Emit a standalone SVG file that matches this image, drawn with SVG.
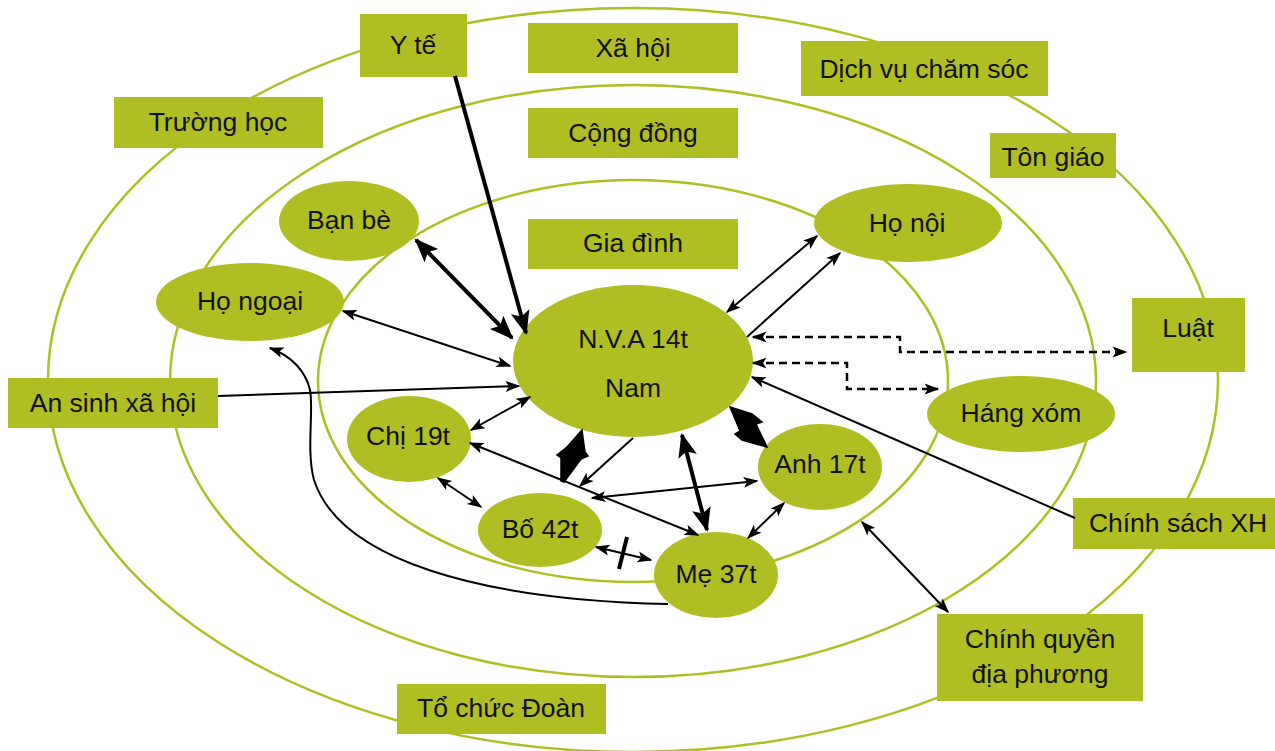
<svg xmlns="http://www.w3.org/2000/svg" width="1275" height="751" viewBox="0 0 1275 751">
<style>
.ring{fill:none;stroke:#AFBE22;stroke-width:2.5}
.box{fill:#AFBE22}
.node{fill:#AFBE22}
.t{font-family:"Liberation Sans",Arial,sans-serif;font-size:26.5px;fill:#111;text-anchor:middle}
.c{fill:none;stroke:#000;stroke-width:2}
.thick{stroke-width:4}
.dash{stroke-dasharray:8 5;stroke-width:2.5}
.dia{fill:#000;stroke:#000;stroke-width:1.5;stroke-linejoin:miter}
</style>
<defs>
<marker id="a" markerUnits="userSpaceOnUse" markerWidth="15" markerHeight="12" refX="13.5" refY="5.5" orient="auto-start-reverse" overflow="visible">
<path d="M0,0 L15,5.5 L0,11 L3.5,5.5 z" fill="#000"/>
</marker>
<marker id="ab" markerUnits="userSpaceOnUse" markerWidth="24" markerHeight="19" refX="22" refY="9.5" orient="auto-start-reverse" overflow="visible">
<path d="M0,0 L24,9.5 L0,19 L5,9.5 z" fill="#000"/>
</marker>
</defs>
<rect width="1275" height="751" fill="#fff"/>
<g id="rings">
<ellipse class="ring" cx="633" cy="380" rx="585" ry="372"/>
<ellipse class="ring" cx="633" cy="381" rx="463" ry="296"/>
<ellipse class="ring" cx="633" cy="381" rx="315" ry="201"/>
</g>
<g id="yte"><rect class="box" x="360" y="14" width="107" height="63"/><text class="t" x="413" y="54">Y tế</text></g>
<g id="xahoi"><rect class="box" x="528" y="23" width="210" height="50"/><text class="t" x="633" y="57">Xã hội</text></g>
<g id="dichvu"><rect class="box" x="801" y="41" width="247" height="55"/><text class="t" x="924" y="78">Dịch vụ chăm sóc</text></g>
<g id="truonghoc"><rect class="box" x="114" y="97" width="209" height="51"/><text class="t" x="218" y="131">Trường học</text></g>
<g id="congdong"><rect class="box" x="528" y="108" width="210" height="50"/><text class="t" x="633" y="142">Cộng đồng</text></g>
<g id="tongiao"><rect class="box" x="990" y="133" width="126" height="45"/><text class="t" x="1053" y="166">Tôn giáo</text></g>
<g id="giadinh"><rect class="box" x="528" y="219" width="210" height="50"/><text class="t" x="633" y="252">Gia đình</text></g>
<g id="luat"><rect class="box" x="1132" y="298" width="113" height="74"/><text class="t" x="1188" y="337">Luật</text></g>
<g id="ansinh"><rect class="box" x="8" y="378" width="210" height="50"/><text class="t" x="113" y="412">An sinh xã hội</text></g>
<g id="chinhsach"><rect class="box" x="1073" y="498" width="202" height="51"/><text class="t" x="1178" y="532">Chính sách XH</text></g>
<g id="chinhquyen"><rect class="box" x="937" y="614" width="206" height="87"/><text class="t" x="1040" y="648">Chính quyền</text><text class="t" x="1040" y="683">địa phương</text></g>
<g id="tochuc"><rect class="box" x="397" y="684" width="209" height="50"/><text class="t" x="501" y="717">Tổ chức Đoàn</text></g>
<g id="banbe"><ellipse class="node" cx="349" cy="221" rx="70" ry="40"/><text class="t" x="349" y="229">Bạn bè</text></g>
<g id="hongoai"><ellipse class="node" cx="250" cy="302" rx="94" ry="39"/><text class="t" x="250" y="310">Họ ngoại</text></g>
<g id="honoi"><ellipse class="node" cx="908" cy="223" rx="94" ry="39"/><text class="t" x="907" y="232">Họ nội</text></g>
<g id="nva"><ellipse class="node" cx="633" cy="361" rx="120" ry="76"/><text class="t" x="633" y="348">N.V.A 14t</text><text class="t" x="633" y="397">Nam</text></g>
<g id="hangxom"><ellipse class="node" cx="1021" cy="414" rx="94" ry="38"/><text class="t" x="1021" y="422">Háng xóm</text></g>
<g id="chi"><ellipse class="node" cx="409" cy="439" rx="62" ry="43"/><text class="t" x="408" y="445">Chị 19t</text></g>
<g id="anh"><ellipse class="node" cx="820" cy="467" rx="62" ry="43"/><text class="t" x="820" y="473">Anh 17t</text></g>
<g id="bo"><ellipse class="node" cx="540" cy="530" rx="62" ry="37"/><text class="t" x="540" y="538">Bố 42t</text></g>
<g id="me"><ellipse class="node" cx="716" cy="575" rx="62" ry="43"/><text class="t" x="716" y="583">Mẹ 37t</text></g>
<g id="connectors">
<path class="c thick" d="M455,76 L526,333" marker-end="url(#ab)"/>
<path class="c thick" d="M416,240 L512,338" marker-start="url(#ab)" marker-end="url(#ab)"/>
<path class="c" d="M343,311 L510,366" marker-start="url(#a)" marker-end="url(#a)"/>
<path class="c" d="M218,396 L519,386" marker-end="url(#a)"/>
<path class="c" d="M471,430 L530,397" marker-start="url(#a)" marker-end="url(#a)"/>
<path class="c" d="M470,443 L698,535" marker-start="url(#a)" marker-end="url(#a)"/>
<path class="c" d="M438,478 L481,507" marker-start="url(#a)" marker-end="url(#a)"/>
<path class="c" d="M596,547 L651,560" marker-start="url(#a)" marker-end="url(#a)"/>
<path class="c thick" d="M627,537 L619,569"/>
<path class="c" d="M748,538 L784,503" marker-start="url(#a)" marker-end="url(#a)"/>
<path class="c thick" d="M682,435 L707,530" marker-start="url(#ab)" marker-end="url(#ab)"/>
<path class="c" d="M633,438 L580,486" marker-end="url(#a)"/>
<path class="c" d="M757,481 L592,498" marker-start="url(#a)" marker-end="url(#a)"/>
<polygon class="dia" points="582,430 585,452 588,456 581,459 564,482 561,481 561,458 557,455 567,447"/>
<polygon class="dia" points="730,407 752,414 762,422 756,424 767,447 742,440 735,434 740,431"/>
<path class="c" d="M727,312 L817,236" marker-start="url(#a)" marker-end="url(#a)"/>
<path class="c" d="M747,337 L840,253" marker-end="url(#a)"/>
<path class="c dash" d="M753,337 H900 V352 H1126" marker-start="url(#a)" marker-end="url(#a)"/>
<path class="c dash" d="M753,363 H847 V389 H938" marker-start="url(#a)" marker-end="url(#a)"/>
<path class="c" d="M1075,518 L752,377" marker-end="url(#a)"/>
<path class="c" d="M862,522 L948,612" marker-start="url(#a)" marker-end="url(#a)"/>
<path class="c" d="M668,604 C480,600 340,560 314,480 C306,450 314,410 310,390 C306,372 292,356 270,348" marker-end="url(#a)"/>
</g>
</svg>
